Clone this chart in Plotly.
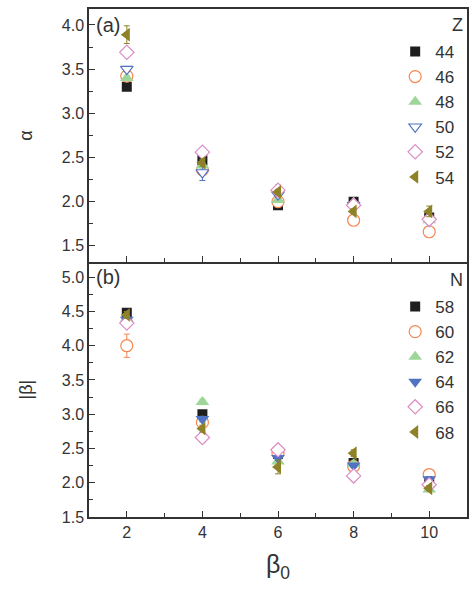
import plotly.graph_objects as go
from plotly.subplots import make_subplots

# deformation parameter on the shared x axis
beta0 = [2, 4, 6, 8, 10]

# panel (a): alpha for each proton number Z
z_labels = ["44", "46", "48", "50", "52", "54"]
alpha_z44 = [3.30, 2.47, 1.96, 2.00, 1.82]
alpha_z46 = [3.42, 2.36, 2.00, 1.79, 1.66]
alpha_z48 = [3.40, 2.41, 2.02, 1.99, 1.79]
alpha_z50 = [3.50, 2.33, 2.08, 1.96, 1.78]
alpha_z52 = [3.69, 2.56, 2.13, 1.96, 1.80]
alpha_z54 = [3.89, 2.44, 2.11, 1.89, 1.89]
alpha_err_z44 = [0.03, 0.06, 0.02, 0.02, 0.03]
alpha_err_z46 = [0.04, 0.04, 0.03, 0.02, 0.03]
alpha_err_z48 = [0.03, 0.03, 0.03, 0.02, 0.02]
alpha_err_z50 = [0.03, 0.09, 0.03, 0.02, 0.03]
alpha_err_z52 = [0.04, 0.03, 0.06, 0.02, 0.02]
alpha_err_z54 = [0.10, 0.04, 0.03, 0.03, 0.06]

# panel (b): |beta| for each neutron number N
n_labels = ["58", "60", "62", "64", "66", "68"]
beta_n58 = [4.48, 3.00, 2.42, 2.29, 2.00]
beta_n60 = [4.00, 2.88, 2.43, 2.24, 2.12]
beta_n62 = [4.40, 3.18, 2.31, 2.27, 1.90]
beta_n64 = [4.38, 2.93, 2.36, 2.25, 2.05]
beta_n66 = [4.33, 2.66, 2.48, 2.10, 1.97]
beta_n68 = [4.45, 2.79, 2.23, 2.43, 1.92]
beta_err_n58 = [0.03, 0.04, 0.03, 0.03, 0.03]
beta_err_n60 = [0.17, 0.05, 0.04, 0.03, 0.06]
beta_err_n62 = [0.04, 0.04, 0.03, 0.03, 0.03]
beta_err_n64 = [0.04, 0.04, 0.03, 0.03, 0.04]
beta_err_n66 = [0.04, 0.07, 0.03, 0.03, 0.03]
beta_err_n68 = [0.05, 0.05, 0.10, 0.05, 0.04]

alpha_series = [alpha_z44, alpha_z46, alpha_z48, alpha_z50, alpha_z52, alpha_z54]
alpha_errors = [alpha_err_z44, alpha_err_z46, alpha_err_z48,
                alpha_err_z50, alpha_err_z52, alpha_err_z54]
beta_series = [beta_n58, beta_n60, beta_n62, beta_n64, beta_n66, beta_n68]
beta_errors = [beta_err_n58, beta_err_n60, beta_err_n62,
               beta_err_n64, beta_err_n66, beta_err_n68]

BLACK = "#1e1e1e"
ORANGE = "#f5874f"
GREEN = "#9ed69a"
BLUE = "#4f72c2"
PINK = "#dc8cc6"
OLIVE = "#8e8228"
AXIS = "#333333"

# (symbol, colour, filled, size)
styles_a = [
    ("square", BLACK, True, 10),
    ("circle", ORANGE, False, 12),
    ("triangle-up", GREEN, True, 12),
    ("triangle-down", BLUE, False, 11),
    ("diamond", PINK, False, 11),
    ("triangle-left", OLIVE, True, 12),
]
styles_b = [
    ("square", BLACK, True, 10),
    ("circle", ORANGE, False, 12),
    ("triangle-up", GREEN, True, 12),
    ("triangle-down", BLUE, True, 12),
    ("diamond", PINK, False, 11),
    ("triangle-left", OLIVE, True, 12),
]

FONT = "Liberation Sans, Arial, Helvetica, sans-serif"

fig = make_subplots(rows=2, cols=1, shared_xaxes=True, vertical_spacing=0,
                    row_heights=[0.4983, 0.5017])


def add_series(labels, series, errors, styles, row, legend):
    for name, ys, errs, (sym, col, filled, size) in zip(labels, series, errors, styles):
        fig.add_trace(go.Scatter(
            x=beta0, y=ys, name=name, mode="markers",
            marker=dict(symbol=sym, size=size,
                        color=col if filled else "white",
                        line=dict(color=col, width=0 if filled else 1.2)),
            error_y=dict(type="data", array=errs, color=col,
                         thickness=1, width=3),
            legend=legend,
        ), row=row, col=1)


add_series(z_labels, alpha_series, alpha_errors, styles_a, 1, "legend")
add_series(n_labels, beta_series, beta_errors, styles_b, 2, "legend2")

axis_common = dict(
    showline=True, linecolor=AXIS, linewidth=1.5,
    ticks="inside", ticklen=6, tickwidth=1.3, tickcolor=AXIS,
    showgrid=False, zeroline=False,
    tickfont=dict(family=FONT, size=16, color=AXIS),
)
minor_x = dict(ticks="inside", ticklen=4, tickwidth=1.2, tickcolor=AXIS,
               dtick=1, tick0=1)
minor_y = dict(ticks="inside", ticklen=4, tickwidth=1.2, tickcolor=AXIS,
               dtick=0.25)

# top panel: frame on all sides; its bottom edge also serves as the
# dividing line between the two panels
fig.update_xaxes(range=[1, 11], tickvals=beta0, minor=minor_x, mirror=True,
                 showticklabels=False, row=1, col=1, **axis_common)
fig.update_xaxes(range=[1, 11], tickvals=beta0, minor=minor_x, mirror=False,
                 title=dict(text="β<sub>0</sub>",
                            font=dict(family=FONT, size=25, color=AXIS),
                            standoff=16),
                 row=2, col=1, **axis_common)

fig.update_yaxes(range=[1.316, 4.18], dtick=0.5, tick0=1.5, tickformat=".1f",
                 minor=minor_y, mirror=True,
                 title=dict(text="α", font=dict(family=FONT, size=18, color=AXIS),
                            standoff=24),
                 row=1, col=1, **axis_common)
fig.update_yaxes(range=[1.5, 5.22], dtick=0.5, tick0=1.5, tickformat=".1f",
                 minor=minor_y, mirror=True,
                 title=dict(text="|β|", font=dict(family=FONT, size=18, color=AXIS),
                            standoff=24),
                 row=2, col=1, **axis_common)

legend_common = dict(
    xanchor="left", yanchor="top", bgcolor="rgba(0,0,0,0)",
    font=dict(family=FONT, size=17, color=AXIS),
    itemwidth=30, tracegroupgap=0,
)

fig.update_layout(
    width=471, height=591,
    margin=dict(l=89, r=2, t=9, b=74),
    paper_bgcolor="white", plot_bgcolor="white",
    showlegend=True,
    legend=dict(x=0.81, y=0.951, **legend_common),
    legend2=dict(x=0.81, y=0.449, **legend_common),
    annotations=[
        dict(text="(a)", x=0.014, y=0.9685, xref="paper", yref="paper",
             xanchor="left", yanchor="middle", showarrow=False,
             font=dict(family=FONT, size=20, color=AXIS)),
        dict(text="(b)", x=0.014, y=0.4727, xref="paper", yref="paper",
             xanchor="left", yanchor="middle", showarrow=False,
             font=dict(family=FONT, size=20, color=AXIS)),
        dict(text="Z", x=0.995, y=0.9685, xref="paper", yref="paper",
             xanchor="right", yanchor="middle", showarrow=False,
             font=dict(family=FONT, size=18, color=AXIS)),
        dict(text="N", x=0.995, y=0.467, xref="paper", yref="paper",
             xanchor="right", yanchor="middle", showarrow=False,
             font=dict(family=FONT, size=18, color=AXIS)),
    ],
)

fig.write_html("out.html")
